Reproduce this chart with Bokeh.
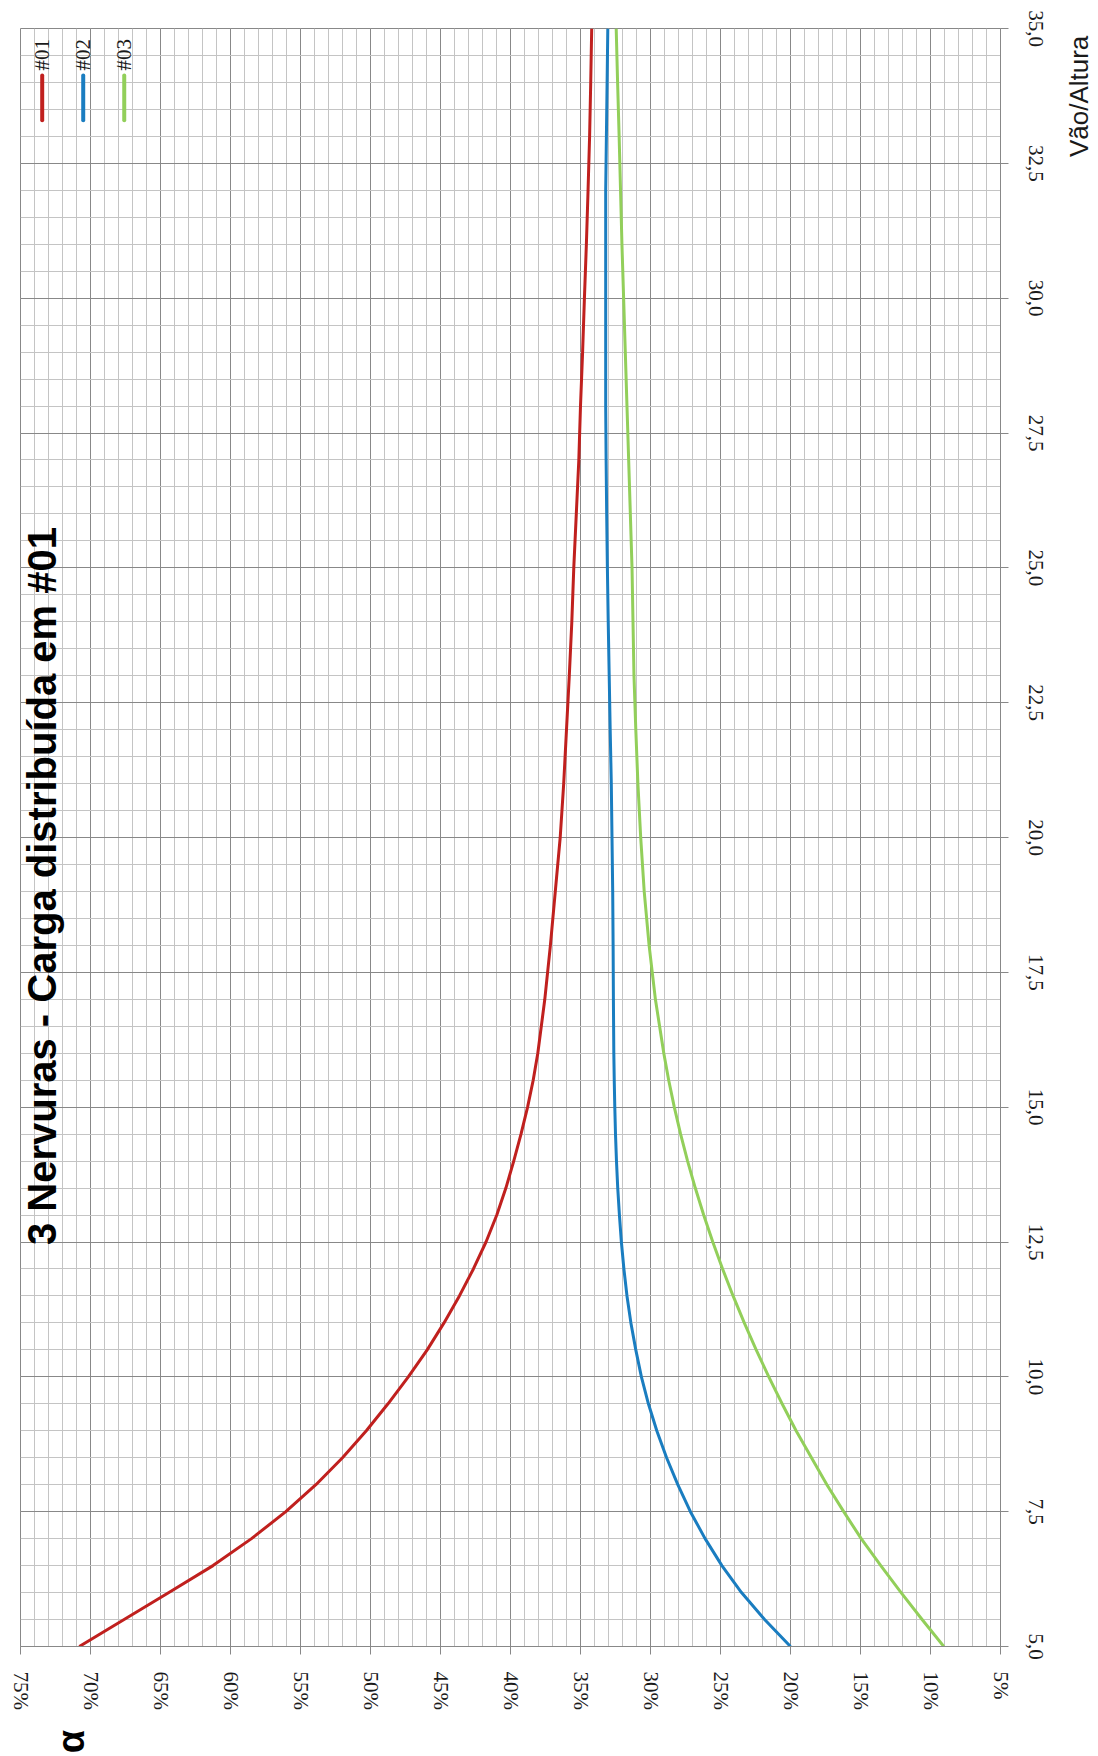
import numpy as np
from bokeh.plotting import figure
from bokeh.layouts import row, column
from bokeh.models import Range1d, FixedTicker, CustomJSTickFormatter, Label
from bokeh.embed import file_html
from bokeh.resources import INLINE
from bokeh.core.properties import value

# ---------------- data ----------------
vao = [5.0, 5.5, 6.0, 6.5, 7.0, 7.5, 8.0, 8.5, 9.0, 9.5, 10.0, 10.5, 11.0, 11.5,
       12.0, 12.5, 13.0, 13.5, 14.0, 14.5, 15.0, 15.5, 16.0, 17.0, 18.0, 19.0, 20.0,
       21.0, 22.0, 23.0, 24.0, 25.0, 26.0, 27.0, 28.0, 29.0, 30.0, 31.0, 32.0,
       33.0, 34.0, 35.0]

alpha_01 = [70.8, 67.6, 64.4, 61.25, 58.5, 56.05, 53.9, 52.0, 50.3, 48.75, 47.3, 45.95,
            44.75, 43.65, 42.65, 41.75, 40.98, 40.33, 39.77, 39.25, 38.78, 38.38, 38.05, 37.55,
            37.15, 36.8, 36.45, 36.2, 36.0, 35.8, 35.62, 35.48, 35.3, 35.12, 35.0, 34.85,
            34.72, 34.58, 34.46, 34.35, 34.27, 34.2]

alpha_02 = [20.0, 21.85, 23.5, 24.9, 26.1, 27.15, 28.05, 28.85, 29.55, 30.15, 30.65, 31.05,
            31.4, 31.68, 31.9, 32.08, 32.22, 32.34, 32.43, 32.5, 32.55, 32.59, 32.62, 32.65,
            32.67, 32.7, 32.75, 32.8, 32.88, 32.95, 33.02, 33.08, 33.13, 33.17, 33.2,
            33.2, 33.2, 33.2, 33.2, 33.15, 33.1, 33.05]

alpha_03 = [9.05, 10.6, 12.1, 13.55, 14.95, 16.2, 17.4, 18.5, 19.6, 20.6, 21.55, 22.45,
            23.3, 24.1, 24.85, 25.55, 26.2, 26.8, 27.35, 27.85, 28.3, 28.7, 29.05, 29.65,
            30.1, 30.45, 30.7, 30.9, 31.05, 31.18, 31.25, 31.32, 31.44, 31.56, 31.68, 31.8,
            31.92, 32.04, 32.14, 32.24, 32.35, 32.45]

series_names = ["#01", "#02", "#03"]
series_colors = ["#C0201E", "#1A7DC0", "#92CF5A"]

alpha_ticks = [75, 70, 65, 60, 55, 50, 45, 40, 35, 30, 25, 20, 15, 10, 5]
vao_ticks = [5.0, 7.5, 10.0, 12.5, 15.0, 17.5, 20.0, 22.5, 25.0, 27.5, 30.0, 32.5, 35.0]

title_text = "3 Nervuras - Carga distribuída em #01"
alpha_title = "α"
vao_title = "Vão/Altura"

# ---------------- main figure ----------------
MAIN_W, MAIN_H = 1056, 1716
BORDER_L, BORDER_R = 20, 56
p = figure(width=MAIN_W, height=MAIN_H,
           x_range=Range1d(75, 5), y_range=Range1d(5, 35),
           x_axis_location="below", y_axis_location="right",
           output_backend="svg", toolbar_location=None,
           min_border_left=BORDER_L, min_border_right=BORDER_R,
           min_border_top=28, min_border_bottom=70)

p.background_fill_color = "white"
p.border_fill_color = "white"
p.outline_line_color = "#888888"

x_main = p.below[0]
y_main = p.right[0]

x_main.ticker = FixedTicker(ticks=alpha_ticks, minor_ticks=list(np.arange(5, 75.5, 1.0)))
y_main.ticker = FixedTicker(ticks=vao_ticks, minor_ticks=list(np.arange(5, 35.25, 0.5)))
x_main.formatter = CustomJSTickFormatter(code="return tick.toFixed(0) + '%';")
y_main.formatter = CustomJSTickFormatter(code="return tick.toFixed(1).replace('.', ',');")

for ax in (x_main, y_main):
    ax.major_label_orientation = "vertical"
    ax.major_label_text_font = "Liberation Serif"
    ax.major_label_text_font_size = "21px"
    ax.major_label_text_color = "#1a1a1a"
    ax.axis_line_color = "#888888"
    ax.major_tick_line_color = "#888888"
    ax.major_tick_out = 8
    ax.major_tick_in = 0
    ax.minor_tick_line_color = None
x_main.major_label_standoff = 17
y_main.major_label_standoff = 20

for g in (p.xgrid, p.ygrid):
    g.grid_line_color = "#888888"
    g.grid_line_width = 1
    g.minor_grid_line_color = "#c4c4c4"
    g.minor_grid_line_width = 1

# ---------------- series ----------------
for name, vals, color in zip(series_names, [alpha_01, alpha_02, alpha_03], series_colors):
    p.line(vals, vao, line_width=3, line_color=color, line_join="round")

# ---------------- legend (rotated, drawn manually) ----------------
for i, (name, color) in enumerate(zip(series_names, series_colors)):
    lx = 73.45 - 2.93 * i
    p.segment(x0=[lx], y0=[33.30], x1=[lx], y1=[34.13], line_width=4,
              line_color=color, line_cap="round")
    p.text(x=[lx], y=[34.22], text=[name], angle=np.pi / 2,
           text_align="left", text_baseline="middle",
           text_font=value("Liberation Serif"), text_font_size="21px",
           text_color="#1a1a1a")

# ---------------- chart title ----------------
p.add_layout(Label(x=73.5, y=19.1, text=title_text, angle=np.pi / 2,
                   text_align="center", text_baseline="middle",
                   text_font="Liberation Sans", text_font_style="bold",
                   text_font_size="40px", text_color="black"))


# ---------------- axis titles in thin side panels ----------------
def blank_panel(w, h, x_range, y_range, **borders):
    q = figure(width=w, height=h, x_range=x_range, y_range=y_range,
               x_axis_type=None, y_axis_type=None, output_backend="svg",
               toolbar_location=None, **borders)
    q.outline_line_color = None
    q.background_fill_color = "white"
    q.border_fill_color = "white"
    q.xgrid.visible = False
    q.ygrid.visible = False
    return q


SIDE_W = 1098 - MAIN_W
BOTTOM_H = 1756 - MAIN_H

# right strip: "Vão/Altura" near the top end of the vertical axis (pixel coordinates)
p_vao = blank_panel(SIDE_W, MAIN_H, Range1d(0, SIDE_W), Range1d(0, MAIN_H),
                    min_border=0)
p_vao.text(x=[22], y=[MAIN_H - 72], text=[vao_title], angle=np.pi / 2,
           text_align="center", text_baseline="middle",
           text_font=value("Liberation Sans"), text_font_size="26px",
           text_color="#1a1a1a")

# bottom strip: "α" under the start of the horizontal axis (shares the α scale)
p_alpha = blank_panel(1098, BOTTOM_H, p.x_range, Range1d(0, BOTTOM_H),
                      min_border_left=BORDER_L, min_border_right=1098 - BORDER_L - 980,
                      min_border_top=0, min_border_bottom=0)
p_alpha.text(x=[71.4], y=[BOTTOM_H - 25], text=[alpha_title], angle=np.pi / 2,
             text_align="center", text_baseline="middle",
             text_font=value("Liberation Sans"), text_font_style="bold",
             text_font_size="38px", text_color="black")

layout = column(row(p, p_vao), p_alpha)

open("out.html", "w").write(file_html(layout, INLINE))
